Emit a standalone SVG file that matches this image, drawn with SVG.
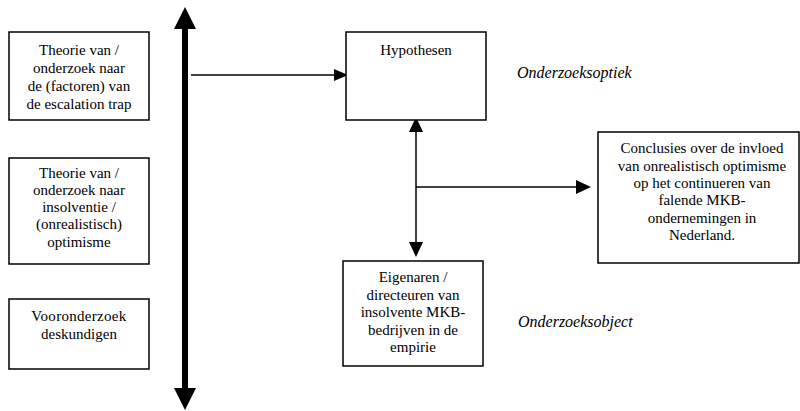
<svg xmlns="http://www.w3.org/2000/svg" width="800" height="411" viewBox="0 0 800 411" font-family="'Liberation Serif', 'DejaVu Serif', serif">
<style>
.box{fill:#fff;stroke:#000;stroke-width:1.5}
.t{font-size:15px;fill:#000;text-anchor:middle}
.it{font-size:16px;font-style:italic;fill:#000}
.ln{stroke:#000;stroke-width:1.5;fill:none}
</style>
<rect width="800" height="411" fill="#fff"/>
<g id="connectors">
<line x1="185" y1="26" x2="185" y2="390" stroke="#000" stroke-width="6"/>
<path d="M185,7 L174,29 L196,29 Z" fill="#000"/>
<path d="M185,410 L174,388 L196,388 Z" fill="#000"/>
<line class="ln" x1="191" y1="75" x2="335" y2="75"/>
<path d="M348,75 L334,69 L334,81 Z" fill="#000"/>
<line class="ln" x1="416" y1="130" x2="416" y2="245"/>
<path d="M416,117 L409,132 L423,132 Z" fill="#000"/>
<path d="M416,257 L409,242 L423,242 Z" fill="#000"/>
<line class="ln" x1="416" y1="187" x2="577" y2="187"/>
<path d="M591,187 L576,180 L576,194 Z" fill="#000"/>
</g>
<g id="n1">
<rect class="box" x="9" y="32" width="140" height="88"/>
<text class="t" x="79" y="55">Theorie van /</text>
<text class="t" x="79" y="73">onderzoek  naar</text>
<text class="t" x="79" y="91">de (factoren)  van</text>
<text class="t" x="79" y="109">de escalation trap</text>
</g>
<g id="n2">
<rect class="box" x="9" y="158" width="140" height="106"/>
<text class="t" x="79" y="178">Theorie van /</text>
<text class="t" x="79" y="195">onderzoek  naar</text>
<text class="t" x="79" y="212">insolventie /</text>
<text class="t" x="79" y="229">(onrealistisch)</text>
<text class="t" x="79" y="247">optimisme</text>
</g>
<g id="n3">
<rect class="box" x="9" y="299" width="140" height="70"/>
<text class="t" x="79" y="321" letter-spacing="0.3">Vooronderzoek</text>
<text class="t" x="79" y="339">deskundigen</text>
</g>
<g id="hypothesen">
<rect class="box" x="346" y="32" width="140" height="88"/>
<text class="t" x="416" y="55">Hypothesen</text>
</g>
<g id="conclusies">
<rect class="box" x="598" y="132" width="201" height="131"/>
<text class="t" x="702" y="153">Conclusies over de invloed</text>
<text class="t" x="702" y="171">van onrealistisch optimisme</text>
<text class="t" x="702" y="188">op het continueren van</text>
<text class="t" x="702" y="205">falende MKB-</text>
<text class="t" x="702" y="223">ondernemingen in</text>
<text class="t" x="702" y="240">Nederland.</text>
</g>
<g id="eigenaren">
<rect class="box" x="343" y="261" width="140" height="105"/>
<text class="t" x="413" y="282">Eigenaren /</text>
<text class="t" x="413" y="300">directeuren van</text>
<text class="t" x="413" y="317">insolvente MKB-</text>
<text class="t" x="413" y="335">bedrijven in de</text>
<text class="t" x="413" y="352">empirie</text>
</g>
<g id="labels">
<text class="it" x="517" y="78">Onderzoeksoptiek</text>
<text class="it" x="518" y="327">Onderzoeksobject</text>
</g>
</svg>
